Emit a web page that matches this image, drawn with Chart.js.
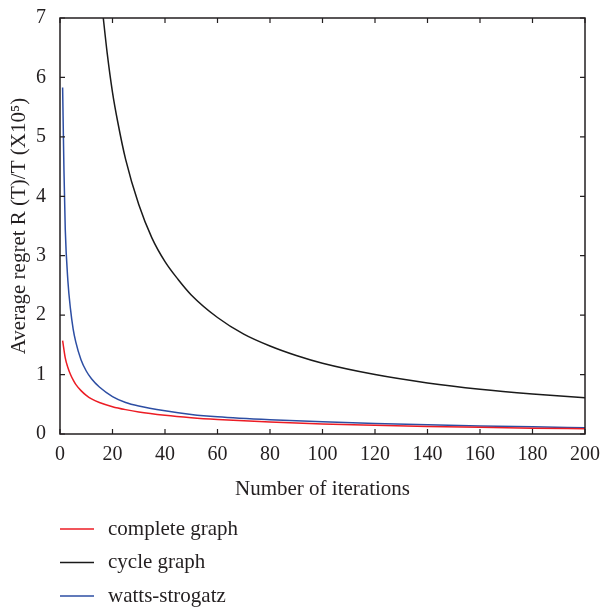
<!DOCTYPE html>
<html>
<head>
<meta charset="utf-8">
<script src="https://cdn.jsdelivr.net/npm/chart.js@4.4.0/dist/chart.umd.js"></script>
<style>
    html, body { margin: 0; padding: 0; background: #fff; }
    #wrap { width: 601px; height: 607px; }
</style>
</head>
<body>
<div id="wrap"><canvas id="chart" width="601" height="607"></canvas></div>
<script>
// values
const completeT = [1, 2, 3, 4, 5, 6, 8, 10, 12, 15, 20, 25, 30, 40, 50, 60, 80, 100, 120, 140, 160, 180, 200];
const completeY = [1.57, 1.28, 1.12, 1.0, 0.91, 0.835, 0.73, 0.65, 0.59, 0.53, 0.46, 0.41, 0.37, 0.315, 0.275, 0.245, 0.2, 0.17, 0.148, 0.128, 0.112, 0.098, 0.087];

const cycleT = [16, 18, 20, 22, 25, 30, 35, 40, 45, 50, 60, 70, 80, 90, 100, 120, 140, 160, 180, 200];
const cycleY = [7.2, 6.4, 5.75, 5.25, 4.62, 3.86, 3.3, 2.9, 2.6, 2.34, 1.96, 1.68, 1.48, 1.32, 1.19, 1.0, 0.86, 0.755, 0.675, 0.61];

const wattsT = [1, 1.5, 2, 3, 4, 5, 6, 8, 10, 12, 15, 20, 25, 30, 40, 50, 60, 80, 100, 120, 140, 160, 180, 200];
const wattsY = [5.83, 4.45, 3.45, 2.58, 2.1, 1.77, 1.55, 1.25, 1.06, 0.93, 0.79, 0.63, 0.53, 0.47, 0.39, 0.33, 0.29, 0.24, 0.205, 0.178, 0.155, 0.136, 0.12, 0.107];

const xTicks = [0, 20, 40, 60, 80, 100, 120, 140, 160, 180, 200];
const yTicks = [0, 1, 2, 3, 4, 5, 6, 7];

const ink = '#231f20';
const serif = "'Liberation Serif', 'DejaVu Serif', serif";

const pts = (xs, ys) => xs.map((x, i) => ({ x, y: ys[i] }));

// inward tick marks on all four sides, box frame, legend under the plot
const frame = {
    id: 'frame',
    afterDatasetsDraw(chart) {
        const { ctx, chartArea: a, scales: { x, y } } = chart;
        ctx.save();
        ctx.strokeStyle = ink;
        ctx.lineWidth = 1.5;
        ctx.strokeRect(a.left, a.top, a.right - a.left, a.bottom - a.top);
        ctx.lineWidth = 1.2;
        ctx.beginPath();
        xTicks.forEach((v) => {
            const px = x.getPixelForValue(v);
            ctx.moveTo(px, a.bottom); ctx.lineTo(px, a.bottom - 5);
            ctx.moveTo(px, a.top); ctx.lineTo(px, a.top + 5);
        });
        yTicks.forEach((v) => {
            const py = y.getPixelForValue(v);
            ctx.moveTo(a.left, py); ctx.lineTo(a.left + 5, py);
            ctx.moveTo(a.right, py); ctx.lineTo(a.right - 5, py);
        });
        ctx.stroke();
        ctx.restore();
    },
    afterDraw(chart) {
        const { ctx } = chart;
        ctx.save();
        ctx.font = '21px ' + serif;
        ctx.textBaseline = 'middle';
        ctx.fillStyle = ink;
        chart.data.datasets.forEach((ds, i) => {
            const yy = 529 + i * 33.5;
            ctx.strokeStyle = ds.borderColor;
            ctx.lineWidth = 1.5;
            ctx.beginPath(); ctx.moveTo(60, yy); ctx.lineTo(94, yy); ctx.stroke();
            ctx.fillText(ds.label, 108, yy);
        });
        ctx.restore();
    },
};

new Chart(document.getElementById('chart'), {
    type: 'line',
    data: {
        datasets: [
            { label: 'complete graph', data: pts(completeT, completeY), borderColor: '#ec1c24' },
            { label: 'cycle graph', data: pts(cycleT, cycleY), borderColor: '#1a1a1a' },
            { label: 'watts-strogatz', data: pts(wattsT, wattsY), borderColor: '#2d4ea3' },
        ],
    },
    options: {
        responsive: false,
        animation: false,
        events: [],
        layout: { padding: { left: 0, top: 12, right: 0, bottom: 103 } },
        elements: {
            point: { radius: 0 },
            line: { borderWidth: 1.5, cubicInterpolationMode: 'monotone', fill: false },
        },
        plugins: { legend: { display: false }, tooltip: { enabled: false } },
        scales: {
            x: {
                type: 'linear', min: 0, max: 200,
                afterBuildTicks: (s) => { s.ticks = xTicks.map((v) => ({ value: v })); },
                afterFit: (s) => { s.height = 70; },
                grid: { display: false },
                border: { display: false },
                ticks: { color: ink, font: { family: serif, size: 20 }, padding: 1, maxRotation: 0 },
                title: { display: true, text: 'Number of iterations', color: ink, font: { family: serif, size: 21 }, padding: { top: 0, bottom: 2 } },
            },
            y: {
                type: 'linear', min: 0, max: 7,
                afterBuildTicks: (s) => { s.ticks = yTicks.map((v) => ({ value: v })); },
                afterFit: (s) => { s.width = 60; },
                grid: { display: false },
                border: { display: false },
                ticks: { color: ink, font: { family: serif, size: 20 }, padding: 6 },
                title: { display: true, text: 'Average regret R (T)/T (X10⁵)', color: ink, font: { family: serif, size: 21 }, padding: { top: 7, bottom: 0 } },
            },
        },
    },
    plugins: [frame],
});
</script>
</body>
</html>
